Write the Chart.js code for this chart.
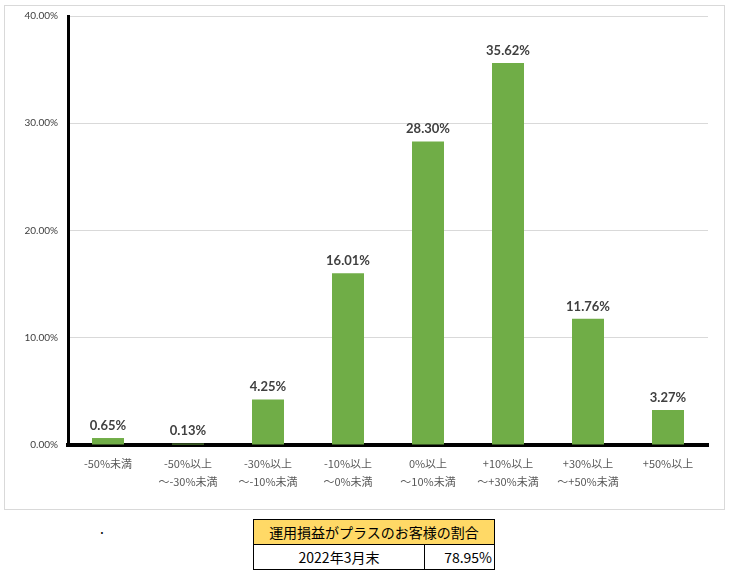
<!DOCTYPE html>
<html><head><meta charset="utf-8">
<script src="https://cdn.jsdelivr.net/npm/chart.js@4/dist/chart.umd.min.js"></script>
<style>
html,body{margin:0;padding:0;background:#fff;}
#frame{position:absolute;left:4px;top:5px;width:719px;height:503px;border:1px solid #d9d9d9;box-sizing:content-box;}
#wrap{position:absolute;left:0;top:0;width:737px;height:510px;}
#dot{position:absolute;left:100px;top:518px;font:14px "Noto Sans CJK JP";color:#000;}
table{position:absolute;left:253px;top:519px;border-collapse:collapse;font-family:"Noto Sans CJK JP";font-size:14px;color:#000;}
td{border:1px solid #000;height:24px;padding:0 2px;line-height:24px;}
td.h{background:#FFD966;text-align:center;}
</style></head>
<body>
<div id="frame"></div>
<div id="wrap"><canvas id="c" width="737" height="510"></canvas></div>
<div id="dot">.</div>
<table>
<tr><td class="h" colspan="2">運用損益がプラスのお客様の割合</td></tr>
<tr><td style="width:166px;text-align:center;">2022年3月末</td><td style="width:65px;text-align:right;">78.95%</td></tr>
</table>
<script>
const categories = [
  ['-50%未満'],
  ['-50%以上','～-30%未満'],
  ['-30%以上','～-10%未満'],
  ['-10%以上','～0%未満'],
  ['0%以上','～10%未満'],
  ['+10%以上','～+30%未満'],
  ['+30%以上','～+50%未満'],
  ['+50%以上']
];
const values = [0.65, 0.13, 4.25, 16.01, 28.30, 35.62, 11.76, 3.27];
const yTicks = [0, 10, 20, 30, 40];

const labelPlugin = {
  id: 'barLabels',
  afterDatasetsDraw(chart) {
    const ctx = chart.ctx;
    const meta = chart.getDatasetMeta(0);
    ctx.save();
    ctx.font = 'bold 13px Lato, "Liberation Sans", sans-serif';
    ctx.fillStyle = '#404040';
    ctx.textAlign = 'center';
    ctx.textBaseline = 'bottom';
    meta.data.forEach((el, i) => {
      ctx.fillText(values[i].toFixed(2) + '%', el.x, el.y - 6);
    });
    ctx.restore();
  }
};

new Chart(document.getElementById('c'), {
  type: 'bar',
  data: {
    labels: categories,
    datasets: [{
      data: values,
      backgroundColor: '#70AD47',
      barPercentage: 0.4,
      categoryPercentage: 1.0
    }]
  },
  options: {
    responsive: false,
    animation: false,
    layout: { padding: { left: 0, top: 16, right: 29, bottom: 0 } },
    plugins: { legend: { display: false }, tooltip: { enabled: false } },
    scales: {
      x: {
        grid: { display: false },
        border: { color: '#000', width: 4 },
        ticks: {
          color: '#595959',
          font: { family: '"Noto Sans CJK JP"', size: 11, lineHeight: 1.7 },
          padding: 1,
          maxRotation: 0,
          autoSkip: false
        },
        afterFit(s) { s.height = 65; }
      },
      y: {
        min: 0, max: 40,
        afterBuildTicks(s) { s.ticks = yTicks.map(v => ({ value: v })); },
        grid: { color: '#d9d9d9', lineWidth: 1, drawTicks: false },
        border: { color: '#000', width: 3 },
        ticks: {
          color: '#404040',
          font: { family: 'Lato, "Liberation Sans", sans-serif', size: 10 },
          padding: 10,
          callback: v => v.toFixed(2) + '%'
        },
        afterFit(s) { s.width = 68; }
      }
    }
  },
  plugins: [labelPlugin]
});
</script>
</body></html>
